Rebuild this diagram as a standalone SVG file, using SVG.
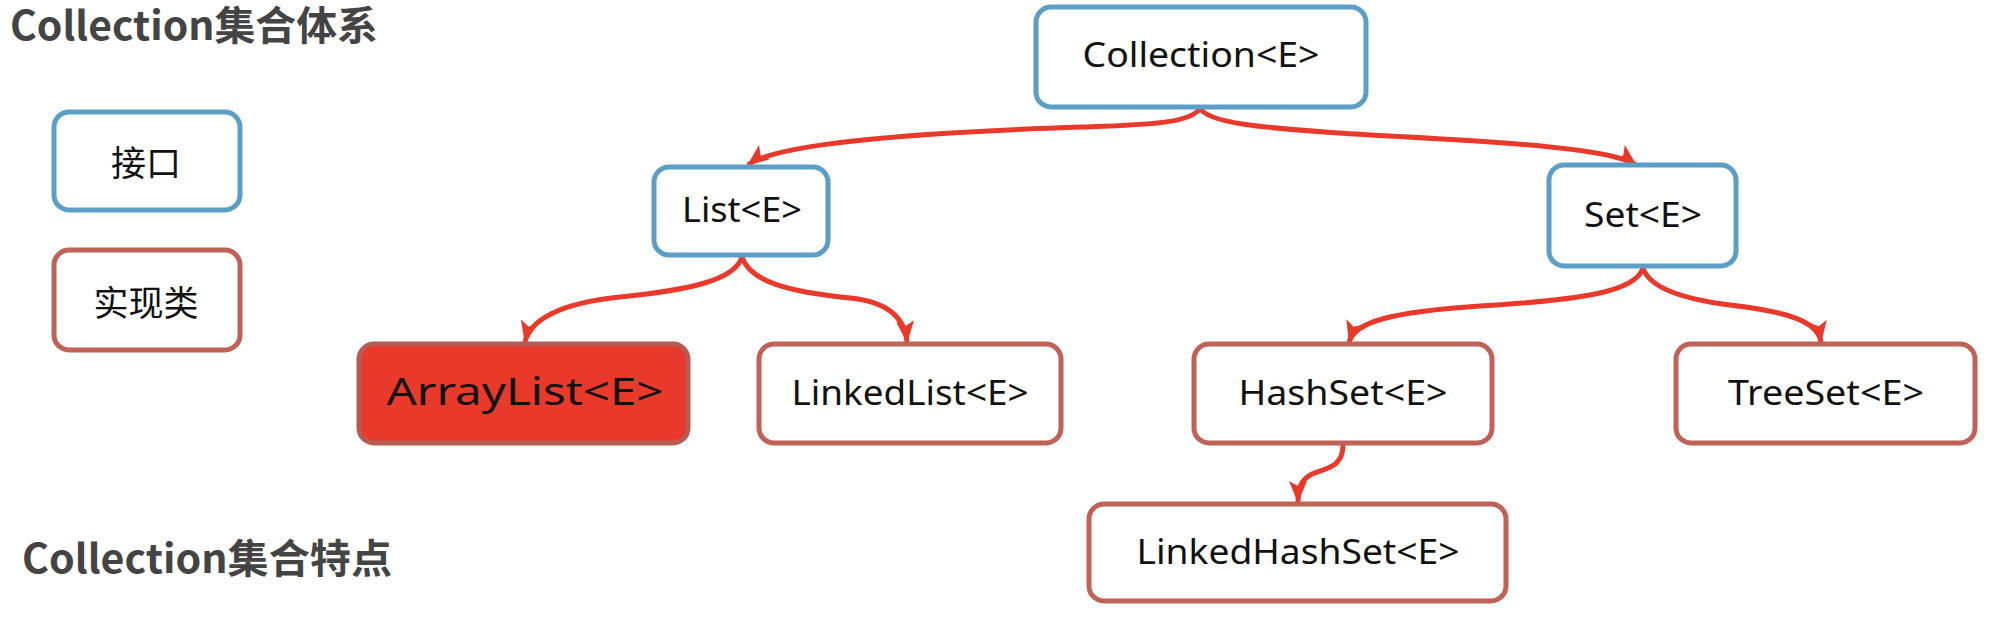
<svg xmlns="http://www.w3.org/2000/svg" width="1990" height="620" viewBox="0 0 1990 620">
<style>
.iface{fill:#ffffff;stroke:#5B9FC6;stroke-width:5}
.impl{fill:#ffffff;stroke:#BF6258;stroke-width:5}
.hot{fill:#E8392A;stroke:#B65A52;stroke-width:5}
.lbl{font-family:"Noto Sans","DejaVu Sans",sans-serif;font-size:35px;fill:#111;text-anchor:middle}
.cjk{font-family:"Noto Sans CJK SC",sans-serif;font-size:35px;fill:#111;text-anchor:middle}
.title{font-family:"Noto Sans CJK SC",sans-serif;font-size:40px;font-weight:bold;fill:#444}
.edge{fill:none;stroke:#E8392A;stroke-width:5;marker-end:url(#arr)}
</style>
<defs>
<marker id="arr" markerUnits="userSpaceOnUse" markerWidth="24" markerHeight="20" refX="21" refY="10" orient="auto">
<path d="M0,1 L22,10 L0,19 L5,10 z" fill="#E8392A"/>
</marker>
</defs>
<rect width="1990" height="620" fill="#ffffff"/>
<g id="titles">
<text class="title" x="10" y="40" textLength="368" lengthAdjust="spacingAndGlyphs">Collection集合体系</text>
<text class="title" x="22" y="573" textLength="370" lengthAdjust="spacingAndGlyphs">Collection集合特点</text>
</g>
<g id="legend-interface">
<rect class="iface" x="54" y="112" width="186" height="98" rx="15"/>
<text class="cjk" x="146" y="176">接口</text>
</g>
<g id="legend-impl">
<rect class="impl" x="54" y="250" width="186" height="100" rx="15"/>
<text class="cjk" x="146" y="316">实现类</text>
</g>
<g id="connectors">
<path class="edge" d="M1200,108 C1192,124 1140,125 1083,127 C960,131 780,140 748,165"/>
<path class="edge" d="M1200,108 C1208,124 1270,128 1338,133 C1450,140 1610,145 1636,165"/>
<path class="edge" d="M742,257 C735,280 690,290 620,297 C560,303 530,320 525,342"/>
<path class="edge" d="M742,257 C750,282 790,292 850,298 C890,302 905,320 907,342"/>
<path class="edge" d="M1643,268 C1636,292 1580,300 1480,306 C1390,312 1355,322 1349,342"/>
<path class="edge" d="M1643,268 C1650,290 1690,300 1730,305 C1790,312 1818,322 1821,342"/>
<path class="edge" d="M1343,445 C1343,468 1325,468 1312,474 C1300,480 1298,490 1298,502"/>
</g>
<g id="collection">
<rect class="iface" x="1036" y="7" width="330" height="100" rx="15"/>
<text class="lbl" x="1201" y="67" textLength="237" lengthAdjust="spacingAndGlyphs">Collection&lt;E&gt;</text>
</g>
<g id="list">
<rect class="iface" x="654" y="167" width="174" height="88" rx="15"/>
<text class="lbl" x="742" y="222" textLength="120" lengthAdjust="spacingAndGlyphs">List&lt;E&gt;</text>
</g>
<g id="set">
<rect class="iface" x="1549" y="165" width="187" height="101" rx="15"/>
<text class="lbl" x="1643" y="227" textLength="118" lengthAdjust="spacingAndGlyphs">Set&lt;E&gt;</text>
</g>
<g id="arraylist">
<rect class="hot" x="359" y="344" width="329" height="99" rx="15"/>
<text class="lbl" x="525" y="405" style="font-size:39px" textLength="277" lengthAdjust="spacingAndGlyphs">ArrayList&lt;E&gt;</text>
</g>
<g id="linkedlist">
<rect class="impl" x="759" y="344" width="302" height="99" rx="15"/>
<text class="lbl" x="910" y="405" textLength="237" lengthAdjust="spacingAndGlyphs">LinkedList&lt;E&gt;</text>
</g>
<g id="hashset">
<rect class="impl" x="1194" y="344" width="298" height="99" rx="15"/>
<text class="lbl" x="1343" y="405" textLength="209" lengthAdjust="spacingAndGlyphs">HashSet&lt;E&gt;</text>
</g>
<g id="treeset">
<rect class="impl" x="1676" y="344" width="299" height="99" rx="15"/>
<text class="lbl" x="1826" y="405" textLength="196" lengthAdjust="spacingAndGlyphs">TreeSet&lt;E&gt;</text>
</g>
<g id="linkedhashset">
<rect class="impl" x="1089" y="504" width="417" height="97" rx="15"/>
<text class="lbl" x="1298" y="564" textLength="323" lengthAdjust="spacingAndGlyphs">LinkedHashSet&lt;E&gt;</text>
</g>
</svg>
